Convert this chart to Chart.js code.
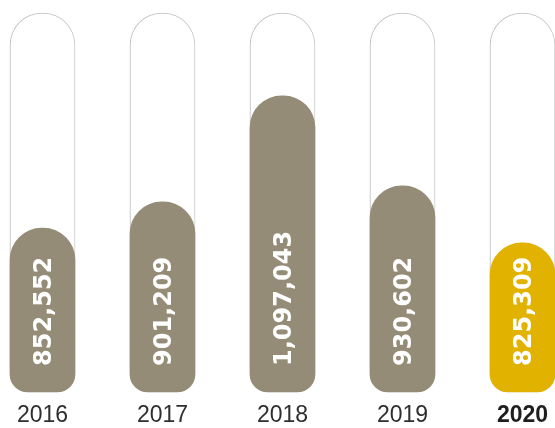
<!DOCTYPE html>
<html>
<head>
<meta charset="utf-8">
<script src="https://cdn.jsdelivr.net/npm/chart.js@4/dist/chart.umd.min.js"></script>
<style>
    html, body { margin: 0; padding: 0; background: #fff; overflow: hidden; }
</style>
</head>
<body>
<canvas id="visitorsChart" width="555" height="428"></canvas>
<script>
// data
const years = ['2016', '2017', '2018', '2019', '2020'];
const visitors = [852552, 901209, 1097043, 930602, 825309];
const highlightYear = '2020';
const yMin = 550000;
const yMax = 1250000;

const GRAY = '#958c77';
const GOLD = '#e2b200';

const barColors = years.map(y => (y === highlightYear ? GOLD : GRAY));

// vertical value labels inside each bar
const valueLabels = {
    id: 'valueLabels',
    afterDatasetsDraw(chart) {
        const ctx = chart.ctx;
        const meta = chart.getDatasetMeta(0);
        meta.data.forEach((el, i) => {
            ctx.save();
            ctx.translate(el.x, el.base - 26);
            ctx.rotate(-Math.PI / 2);
            ctx.font = 'bold 24px "DejaVu Sans"';
            ctx.fillStyle = '#ffffff';
            ctx.textAlign = 'left';
            ctx.textBaseline = 'alphabetic';
            ctx.fillText(visitors[i].toLocaleString('en-US'), 0, 8.7);
            ctx.restore();
        });
    },
};

// soft shadow behind the empty tubes
const tubeShadow = {
    id: 'tubeShadow',
    beforeDatasetDraw(chart, args) {
        if (args.index !== 1) return;
        const ctx = chart.ctx;
        ctx.save();
        ctx.shadowColor = 'rgba(0,0,0,0.10)';
        ctx.shadowBlur = 14;
        ctx.shadowOffsetX = -5;
        ctx.shadowOffsetY = 0;
    },
    afterDatasetDraw(chart, args) {
        if (args.index !== 1) return;
        chart.ctx.restore();
    },
};

new Chart(document.getElementById('visitorsChart'), {
    type: 'bar',
    data: {
        labels: years,
        datasets: [
            {
                label: 'Visitors',
                data: visitors,
                base: yMin,
                backgroundColor: barColors,
                borderWidth: 0,
                borderSkipped: false,
                borderRadius: { topLeft: 32, topRight: 32, bottomLeft: 18, bottomRight: 18 },
                barThickness: 65,
                grouped: false,
                clip: false,
                order: 1,
            },
            {
                label: 'Tube',
                data: years.map(() => yMax),
                base: yMin,
                backgroundColor: '#ffffff',
                borderColor: '#d0d0d0',
                borderWidth: 1,
                borderSkipped: false,
                borderRadius: { topLeft: 32, topRight: 32, bottomLeft: 18, bottomRight: 18 },
                barThickness: 65,
                grouped: false,
                clip: false,
                order: 2,
            },
        ],
    },
    options: {
        responsive: false,
        animation: false,
        layout: {
            padding: { top: 13, left: 42.5, right: 32.5, bottom: 1 },
        },
        plugins: {
            legend: { display: false },
            tooltip: { enabled: false },
        },
        scales: {
            x: {
                offset: false,
                grid: { display: false, drawTicks: true, tickLength: 12 },
                border: { display: false },
                ticks: {
                    padding: 0,
                    maxRotation: 0,
                    color: c => (years[c.index] === highlightYear ? '#1e1e1e' : '#2e2e2e'),
                    font: c => ({
                        family: '"Liberation Sans", Arial, sans-serif',
                        size: 23,
                        lineHeight: 1.0,
                        weight: years[c.index] === highlightYear ? 'bold' : 'normal',
                    }),
                },
            },
            y: {
                display: false,
                min: yMin,
                max: yMax,
            },
        },
    },
    plugins: [tubeShadow, valueLabels],
});
</script>
</body>
</html>
